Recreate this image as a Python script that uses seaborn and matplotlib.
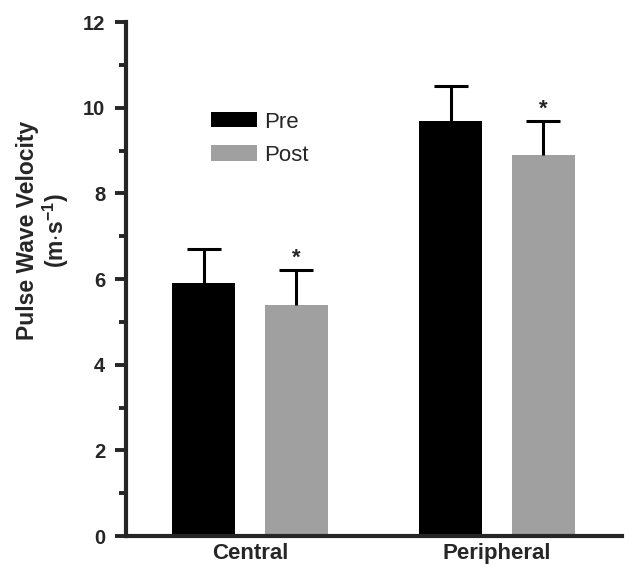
import numpy as np
import pandas as pd
import matplotlib
matplotlib.use('Agg')
import matplotlib.pyplot as plt
import seaborn as sns

# values
sites = ['Central', 'Peripheral']
phases = ['Pre', 'Post']
pre_vals = [5.9, 9.7]
post_vals = [5.4, 8.9]
pre_err = [0.8, 0.8]
post_err = [0.8, 0.8]
sig_post = [True, True]

df = pd.DataFrame({
    'site': sites * 2,
    'phase': ['Pre'] * 2 + ['Post'] * 2,
    'pwv': pre_vals + post_vals,
    'err': pre_err + post_err,
})

sns.set_style('ticks')
plt.rcParams['font.family'] = ['Liberation Sans', 'DejaVu Sans']
plt.rcParams['mathtext.fontset'] = 'custom'
plt.rcParams['mathtext.bf'] = 'Liberation Sans:bold'
plt.rcParams['mathtext.rm'] = 'Liberation Sans'

fig = plt.figure(figsize=(6.41, 5.66), dpi=100)
ax = fig.add_axes([0.1966, 0.053, 0.774, 0.908])

palette = {'Pre': '#000000', 'Post': '#a0a0a0'}
sns.barplot(data=df, x='site', y='pwv', hue='phase', hue_order=phases,
            order=sites, palette=palette, width=0.75, gap=0.32,
            errorbar=None, saturation=1, linewidth=0, ax=ax)

# error bars (upper only) using the drawn bar positions
bars = [p for p in ax.patches if p.get_height() > 0]
bars = sorted(bars, key=lambda p: p.get_x())
order_keys = [('Central', 'Pre'), ('Central', 'Post'), ('Peripheral', 'Pre'), ('Peripheral', 'Post')]
for p, (s, ph) in zip(bars, order_keys):
    row = df[(df.site == s) & (df.phase == ph)].iloc[0]
    xc = p.get_x() + p.get_width() / 2
    eb = ax.errorbar(xc, row.pwv, yerr=[[0], [row.err]], fmt='none', ecolor='black',
                     elinewidth=2.2, capsize=12.5, capthick=2.2)
    eb[1][0].set_visible(False)  # no cap at the bar top
    if ph == 'Post' and sig_post[sites.index(s)]:
        ax.text(xc, row.pwv + row.err + 0.03, '*', ha='center', va='bottom',
                fontsize=16, fontweight='bold')

ax.set_ylim(0, 12)
ax.set_xlim(-0.502, 1.506)
ax.set_yticks(np.arange(0, 13, 2))
ax.set_yticks(np.arange(1, 12, 2), minor=True)
ax.tick_params(axis='y', which='major', length=8, width=2.8, labelsize=14.5, pad=7)
ax.tick_params(axis='y', which='minor', length=5, width=2.8)
ax.tick_params(axis='x', length=0, labelsize=16, pad=5)
for lab in ax.get_yticklabels() + ax.get_xticklabels():
    lab.set_fontweight('bold')

for side in ['top', 'right']:
    ax.spines[side].set_visible(False)
for side in ['left', 'bottom']:
    ax.spines[side].set_linewidth(3)

ax.set_xlabel('')
ax.set_ylabel('Pulse Wave Velocity\n(m$\\cdot$s$^{\\mathbf{-1}}$)', fontsize=16.5,
              fontweight='bold', linespacing=1.1)
ax.yaxis.set_label_coords(-0.11, 0.595)

leg = ax.legend(loc='upper left', bbox_to_anchor=(0.153, 0.843), frameon=False,
                fontsize=16, handlelength=2.1, handleheight=0.68,
                handletextpad=0.3, labelspacing=0.55, borderaxespad=0)

fig.savefig('out.png', dpi=100)
